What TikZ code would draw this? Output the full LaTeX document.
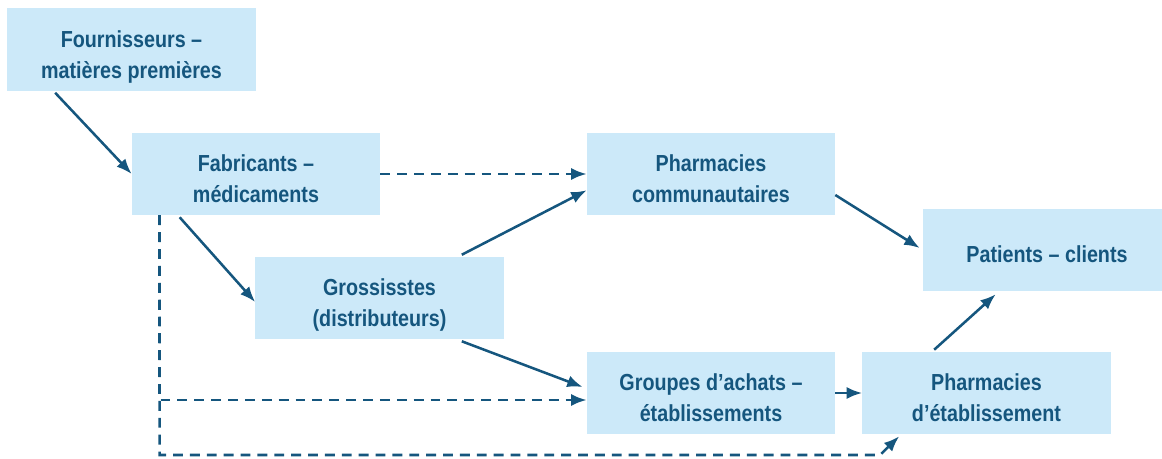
\documentclass[tikz,border=0pt]{standalone}
\usepackage{fontspec}
\usetikzlibrary{arrows.meta,calc}
\newfontfamily\boxfont{Liberation Sans}[FakeStretch=0.85]
\definecolor{boxblue}{RGB}{204,233,249}
\definecolor{darkblue}{RGB}{21,86,126}

\begin{document}
\begin{tikzpicture}[x=0.025cm,y=-0.025cm]
	\tikzstyle{box} = [fill=boxblue,text=darkblue,inner sep=0pt,minimum width=6.2cm,minimum height=2.05cm,align=center,
		font=\boxfont\bfseries\fontsize{16.5}{22}\selectfont,text height=41pt,text depth=0pt]
	\tikzstyle{onebox} = [box,text height=17.5pt]
	\tikzstyle{flow} = [draw=darkblue,line width=1.8pt,-{Latex[length=11pt,width=8.5pt]}]
	\tikzstyle{direct} = [flow,dash pattern=on 7pt off 5pt]
	\useasboundingbox (0,0) rectangle (1162,459);
	% actors
	\node[box] (fourn) at (131.5,49.5) {Fournisseurs –\\matières premières};
	\node[box] (fab) at (256,174) {Fabricants –\\médicaments};
	\node[box] (gros) at (379.5,298) {Grossisstes\\(distributeurs)};
	\node[box] (pcomm) at (711,174) {Pharmacies\\communautaires};
	\node[box] (groupes) at (711,393) {Groupes d’achats –\\établissements};
	\node[box] (petab) at (986.5,393) {Pharmacies\\d’établissement};
	\node[onebox] (patients) at (1047,250) {Patients – clients};
	% supply chain
	\draw[flow] ($(fourn.south west)+(48,2)$) -- (fab.west);
	\draw[flow] ($(fab.south west)+(48,2)$) -- ($(gros.west)+(0,4)$);
	\draw[flow] ($(gros.north east)+(-42,-2)$) -- ($(pcomm.south west)+(0,-25)$);
	\draw[flow] ($(gros.south east)+(-42,2)$) -- ($(groupes.west)+(-4,-6)$);
	\draw[flow] ($(pcomm.east)+(0,21)$) -- ($(patients.west)+(-3,-2)$);
	\draw[flow] (groupes.east) -- (petab.west);
	\draw[flow] ($(petab.north west)+(72,-2)$) -- ($(patients.south west)+(73,3)$);
	% direct deliveries
	\coordinate (drop) at ($(fab.south west)+(28,0)$);
	\coordinate (corner) at (880,455);
	\draw[direct] (fab.east) -- (pcomm.west);
	\draw[direct] (drop) |- ($(groupes.west)+(0,7)$);
	\draw[direct] (drop) |- (corner) -- ($(petab.south west)+(37,2)$);
\end{tikzpicture}
\end{document}
